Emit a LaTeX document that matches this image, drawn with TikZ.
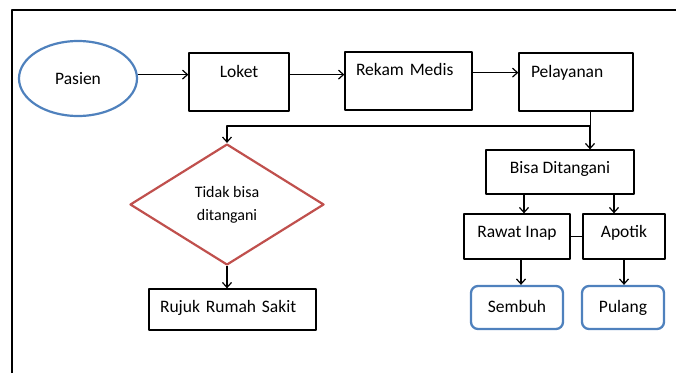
\documentclass[tikz,border=0pt]{standalone}
\usepackage{fontspec}
\setmainfont{Carlito}
\usetikzlibrary{arrows.meta,shapes,positioning}
\definecolor{blueline}{RGB}{79,129,189}
\definecolor{redline}{RGB}{192,80,77}
\tikzstyle{box}   =[draw, rectangle, line width=1.3pt,
                    inner ysep=0pt, inner xsep=2pt]
\tikzstyle{endbox}=[box, draw=blueline, line width=2.3pt,
                    rounded corners=7pt]
\tikzstyle{arr}   =[-{Straight Barb[length=5pt,width=9pt]},
                    line width=1.2pt]

\begin{document}
\begin{tikzpicture}[x=1pt, y=-1pt, line join=round,
            every node/.style={font=\fontsize{17.5}{20}\selectfont}]
    \useasboundingbox (0,0) rectangle (676,373);
    \draw[line width=2.5pt] (12,373) -- (12,10) -- (676,10);

    \node (pasien) at (78,78.5) [ellipse, draw=blueline, line width=2.2pt,
        minimum width=118pt, minimum height=75pt] {Pasien};
    \node (loket) at (239,82) [box, minimum width=100pt,
        text height=24pt, text depth=34pt] {Loket};
    \node (rekam) at (408.5,81) [box, inner xsep=11pt, text width=105pt,
        align=left, text height=23pt, text depth=35pt] {Rekam Medis};
    \node (pelayanan) at (576,82) [box, inner xsep=12pt, text width=90pt,
        align=left, text height=24pt, text depth=34pt] {Pelayanan};

    \node (tidak) at (227,204.5) [diamond, draw=redline, line width=2.2pt,
        minimum width=194pt, minimum height=121pt, inner sep=0pt,
        align=center, font=\fontsize{16}{23}\selectfont] {Tidak bisa\\ditangani};
    \node (rujuk) at (232.5,309.5) [box, inner xsep=11pt, text width=145pt,
        align=left, text height=23pt, text depth=18pt] {Rujuk Rumah Sakit};

    \node (bisa) at (560,172) [box, minimum width=148pt,
        text height=23pt, text depth=21pt] {Bisa Ditangani};
    \node (rawat) at (517,236.5) [box, minimum width=106pt,
        text height=23pt, text depth=22pt] {Rawat Inap};
    \node (apotik) at (624,236.5) [box, minimum width=82pt,
        text height=23pt, text depth=22pt] {Apotik};
    \node (sembuh) at (517,307.5) [endbox, minimum width=92pt,
        text height=26pt, text depth=17pt] {Sembuh};
    \node (pulang) at (623,307.5) [endbox, minimum width=82pt,
        text height=26pt, text depth=17pt] {Pulang};

    \coordinate (split) at (590,126);

    \draw[arr] (pasien.east |- loket.mid) -- (loket.mid west);
    \draw[arr] (loket.mid east) -- (loket.mid east -| rekam.west);
    \draw[arr] (rekam.mid east) -- (rekam.mid east -| pelayanan.west);
    \draw (pelayanan.south -| split) -- (split);
    \draw[arr] (split) -| (tidak.north);
    \draw[arr] (split) -- (split |- bisa.north);
    \draw[arr] (tidak.south) -- (tidak.south |- rujuk.north);
    \draw[arr] ([xshift=7pt]rawat.north |- bisa.south) -- ([xshift=7pt]rawat.north);
    \draw[arr] ([xshift=-10pt]apotik.north |- bisa.south) -- ([xshift=-10pt]apotik.north);
    \draw (rawat.east) -- (rawat.east -| apotik.west);
    \draw[arr] ([xshift=4pt]rawat.south) -- ([xshift=4pt]rawat.south |- sembuh.north);
    \draw[arr] (apotik.south) -- (apotik.south |- pulang.north);
\end{tikzpicture}
\end{document}
